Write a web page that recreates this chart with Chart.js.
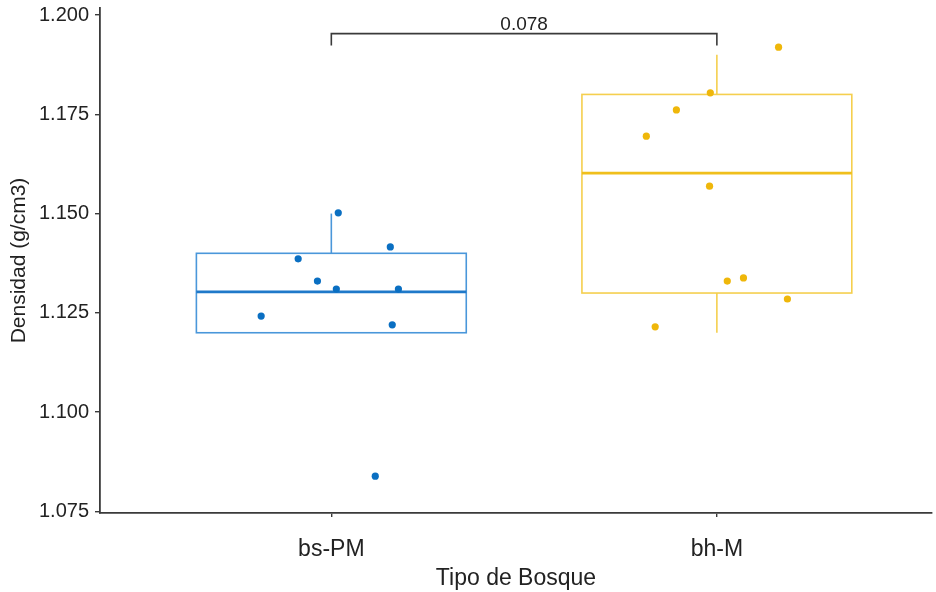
<!DOCTYPE html>
<html>
<head>
<meta charset="utf-8">
<script src="https://cdn.jsdelivr.net/npm/chart.js@4.4.1/dist/chart.umd.min.js"></script>
<style>
  html, body { margin: 0; padding: 0; background: #ffffff; }
  #wrap { width: 936px; height: 592px; }
</style>
</head>
<body>
<div id="wrap"><canvas id="boxChart" width="936" height="592"></canvas></div>
<script>
// Datos
const categories = ['bs-PM', 'bh-M'];
const yTicks = [1.075, 1.100, 1.125, 1.150, 1.175, 1.200];

// Resumen de cada caja: [bs-PM, bh-M]
const whiskerLow = [1.120, 1.120];
const q1 = [1.120, 1.130];
const median = [1.1303, 1.1602];
const q3 = [1.140, 1.180];
const whiskerHigh = [1.150, 1.190];

// Puntos individuales (x con jitter)
const bsX = [0.818, 0.914, 0.964, 1.013, 1.018, 1.153, 1.174, 1.158, 1.114];
const bsY = [1.1242, 1.1386, 1.1330, 1.1310, 1.1502, 1.1416, 1.1310, 1.1220, 1.0839];
const bhX = [1.817, 1.895, 1.983, 2.160, 1.981, 2.027, 2.069, 2.183, 1.840];
const bhY = [1.1695, 1.1761, 1.1804, 1.1919, 1.1569, 1.1330, 1.1338, 1.1285, 1.1215];

// Comparación (p-valor)
const pLabel = '0.078';
const bracketY = 1.1953;
const bracketTip = 0.0030;

const pointColors = ['#0a6fc2', '#efb70a'];
const boxColors = ['#4a97da', '#f5cf4e'];
const medianColors = ['#1f79c9', '#f0bf1c'];
const boxWidth = 0.7;

// Dibuja cajas, bigotes y medianas usando las escalas de Chart.js
const boxPlugin = {
    id: 'boxes',
    beforeDatasetsDraw(chart) {
        const ctx = chart.ctx;
        const xs = chart.scales.x;
        const ys = chart.scales.y;
        ctx.save();
        categories.forEach((cat, i) => {
            const c = i + 1;
            const xl = xs.getPixelForValue(c - boxWidth / 2);
            const xr = xs.getPixelForValue(c + boxWidth / 2);
            const xc = xs.getPixelForValue(c);
            ctx.strokeStyle = boxColors[i];
            ctx.lineWidth = 1.6;
            // bigotes
            ctx.beginPath();
            ctx.moveTo(xc, ys.getPixelForValue(q3[i]));
            ctx.lineTo(xc, ys.getPixelForValue(whiskerHigh[i]));
            ctx.moveTo(xc, ys.getPixelForValue(q1[i]));
            ctx.lineTo(xc, ys.getPixelForValue(whiskerLow[i]));
            ctx.stroke();
            // caja
            const yt = ys.getPixelForValue(q3[i]);
            const yb = ys.getPixelForValue(q1[i]);
            ctx.strokeRect(xl, yt, xr - xl, yb - yt);
            // mediana
            ctx.strokeStyle = medianColors[i];
            ctx.lineWidth = 2.6;
            ctx.beginPath();
            ctx.moveTo(xl, ys.getPixelForValue(median[i]));
            ctx.lineTo(xr, ys.getPixelForValue(median[i]));
            ctx.stroke();
        });
        ctx.restore();
    },
    afterDatasetsDraw(chart) {
        const ctx = chart.ctx;
        const xs = chart.scales.x;
        const ys = chart.scales.y;
        const x1 = xs.getPixelForValue(1);
        const x2 = xs.getPixelForValue(2);
        const yTop = ys.getPixelForValue(bracketY);
        const yEnd = ys.getPixelForValue(bracketY - bracketTip);
        ctx.save();
        ctx.strokeStyle = '#3a3a3a';
        ctx.lineWidth = 1.6;
        ctx.beginPath();
        ctx.moveTo(x1, yEnd);
        ctx.lineTo(x1, yTop);
        ctx.lineTo(x2, yTop);
        ctx.lineTo(x2, yEnd);
        ctx.stroke();
        ctx.fillStyle = '#222222';
        ctx.font = '19px "Liberation Sans", Arial, sans-serif';
        ctx.textAlign = 'center';
        ctx.textBaseline = 'alphabetic';
        ctx.fillText(pLabel, (x1 + x2) / 2, yTop - 4);
        ctx.restore();
    }
};

const ctx = document.getElementById('boxChart').getContext('2d');

new Chart(ctx, {
    type: 'scatter',
    data: {
        datasets: [
            {
                label: categories[0],
                data: bsX.map((x, i) => ({ x: x, y: bsY[i] })),
                backgroundColor: pointColors[0],
                borderColor: pointColors[0],
                pointRadius: 3.6,
                borderWidth: 0
            },
            {
                label: categories[1],
                data: bhX.map((x, i) => ({ x: x, y: bhY[i] })),
                backgroundColor: pointColors[1],
                borderColor: pointColors[1],
                pointRadius: 3.6,
                borderWidth: 0
            }
        ]
    },
    options: {
        responsive: false,
        animation: false,
        layout: { padding: { top: 8, right: 0, left: 0, bottom: 0 } },
        plugins: {
            legend: { display: false },
            tooltip: { enabled: false }
        },
        scales: {
            x: {
                type: 'linear',
                min: 0.4,
                max: 2.558,
                afterBuildTicks: scale => {
                    scale.ticks = [{ value: 1 }, { value: 2 }];
                },
                afterFit: scale => {
                    scale.height = 79;
                    scale.paddingLeft = 0;
                    scale.paddingRight = 0;
                },
                ticks: {
                    callback: v => categories[v - 1],
                    color: '#222222',
                    padding: 19,
                    maxRotation: 0,
                    autoSkip: false,
                    font: { family: '"Liberation Sans", Arial, sans-serif', size: 23 }
                },
                grid: {
                    display: true,
                    drawOnChartArea: false,
                    drawTicks: true,
                    tickLength: 4,
                    color: '#3a3a3a',
                    lineWidth: 1.4
                },
                border: { display: true, color: '#3a3a3a', width: 1.8 },
                title: {
                    display: true,
                    text: 'Tipo de Bosque',
                    color: '#222222',
                    padding: { top: 0, bottom: 0 },
                    font: { family: '"Liberation Sans", Arial, sans-serif', size: 23 }
                }
            },
            y: {
                type: 'linear',
                min: 1.07462,
                max: 1.20176,
                afterBuildTicks: scale => {
                    scale.ticks = yTicks.map(v => ({ value: v }));
                },
                afterFit: scale => {
                    scale.width = 100;
                    scale.paddingTop = 0;
                    scale.paddingBottom = 0;
                },
                ticks: {
                    callback: v => v.toFixed(3),
                    color: '#222222',
                    padding: 6,
                    font: { family: '"Liberation Sans", Arial, sans-serif', size: 20 }
                },
                grid: {
                    display: true,
                    drawOnChartArea: false,
                    drawTicks: true,
                    tickLength: 5,
                    color: '#3a3a3a',
                    lineWidth: 1.4
                },
                border: { display: true, color: '#3a3a3a', width: 1.8 },
                title: {
                    display: true,
                    text: 'Densidad (g/cm3)',
                    color: '#222222',
                    padding: { top: 7, bottom: 0 },
                    font: { family: '"Liberation Sans", Arial, sans-serif', size: 21 }
                }
            }
        }
    },
    plugins: [boxPlugin]
});
</script>
</body>
</html>
